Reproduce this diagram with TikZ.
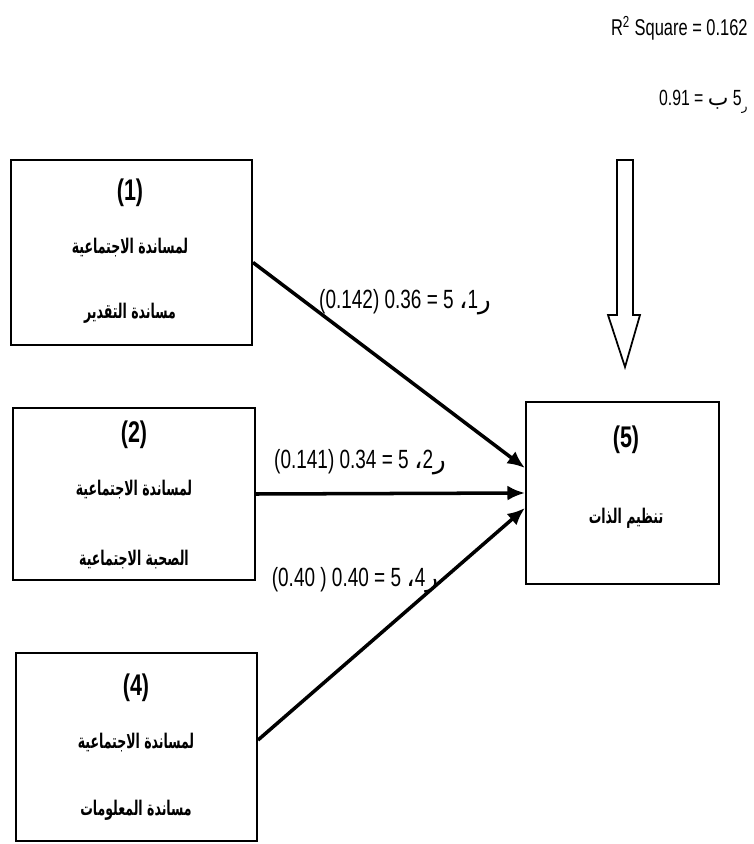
\documentclass[tikz,border=0pt]{standalone}
\usepackage{fontspec}
\TeXXeTstate=1
\newfontfamily\arabicfont[Script=Arabic]{DejaVu Sans}
\newfontfamily\arabicbold[Script=Arabic, FakeStretch=0.62]{DejaVu Sans Bold}
\newfontfamily\narrowfont[FakeStretch=0.72]{Liberation Sans}
\usetikzlibrary{arrows.meta}
\begin{document}
\begin{tikzpicture}[x=0.02cm, y=-0.02cm]
      \tikzset{
	  factor/.style={rectangle, draw=black, line width=1.2pt, inner sep=0pt},
	  num/.style={font=\narrowfont\bfseries\fontsize{17}{20}\selectfont, inner sep=1pt},
	  ar/.style={font=\arabicbold\fontsize{11.5}{13}\selectfont, inner sep=1pt},
	  coef/.style={font=\narrowfont\fontsize{15}{17}\selectfont, inner sep=1pt},
	  path/.style={line width=2pt, -{Latex[length=3.5mm, width=3mm]}}
      }
      \useasboundingbox (0,0) rectangle (753,844);

      \node at (131.5,252.5) [factor, minimum width=4.82cm, minimum height=3.70cm] (b1) {};
      \node at (134,494) [factor, minimum width=4.84cm, minimum height=3.44cm] (b2) {};
      \node at (136.5,747) [factor, minimum width=4.82cm, minimum height=3.76cm] (b4) {};
      \node at (622.5,493) [factor, minimum width=3.86cm, minimum height=3.64cm] (b5) {};

      \node at (130,193) [num] (n1) {(1)};
      \node at (130,248) [ar] (t1a) {\beginR لمساندة الاجتماعية\endR};
      \node at (130,313) [ar] (t1b) {\beginR مساندة التقدير\endR};

      \node at (134,435) [num] (n2) {(2)};
      \node at (134,490) [ar] (t2a) {\beginR لمساندة الاجتماعية\endR};
      \node at (134,560) [ar] (t2b) {\beginR الصحبة الاجتماعية\endR};

      \node at (136,688) [num] (n4) {(4)};
      \node at (136,743) [ar] (t4a) {\beginR لمساندة الاجتماعية\endR};
      \node at (136,810) [ar] (t4b) {\beginR مساندة المعلومات\endR};

      \node at (626,440) [num] (n5) {(5)};
      \node at (626,518) [ar] (t5) {\beginR تنظيم الذات\endR};

      \draw [path] ([yshift=-0.2cm]b1.east) -- ([yshift=0.5cm]b5.west);
      \draw [path] (b2.east) -- (b5.west);
      \draw [path] ([yshift=0.14cm]b4.east) -- ([yshift=-0.3cm]b5.west);

      \node at (405,302) [coef] (c1) {(0.142) 0.36 = 5 {\arabicfont ،}1{\arabicfont ر}};
      \node at (360,462) [coef] (c2) {(0.141) 0.34 = 5 {\arabicfont ،}2{\arabicfont ر}};
      \node at (355,580) [coef] (c4) {(0.40 ) 0.40 = 5 {\arabicfont ،}4{\arabicfont ر}};

      \draw [line width=1pt] (617,160) -- (633,160) -- (633,315) -- (640,315) -- (625,367)
	    -- (608,315) -- (617,315) -- cycle;

      \node at (748,28) [anchor=east, font=\narrowfont\fontsize{13}{15}\selectfont, inner sep=0pt] (r2)
	    {R\textsuperscript{2} Square = 0.162};
      \node at (748,102) [anchor=east, font=\narrowfont\fontsize{12.5}{14}\selectfont, inner sep=0pt] (rb)
	    {0.91 = {\arabicfont ب} 5\raisebox{-0.4ex}{\arabicfont\scriptsize ر}};
    \end{tikzpicture}
\end{document}
